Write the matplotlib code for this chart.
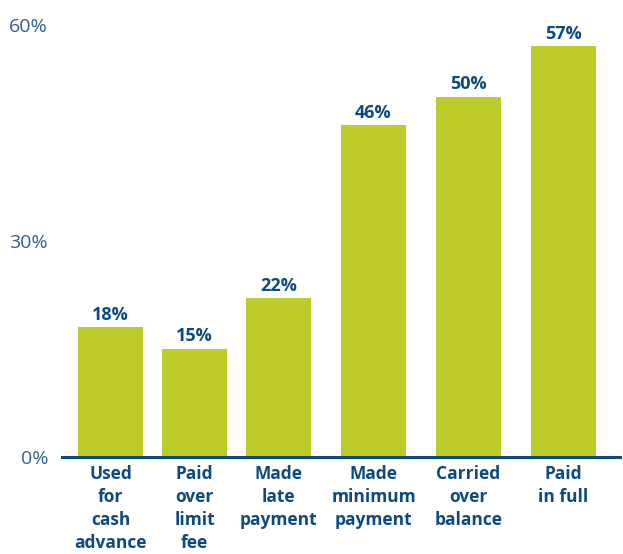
import matplotlib
matplotlib.use('Agg')
import matplotlib.pyplot as plt

categories = ['Used\nfor\ncash\nadvance', 'Paid\nover\nlimit\nfee', 'Made\nlate\npayment',
              'Made\nminimum\npayment', 'Carried\nover\nbalance', 'Paid\nin full']
values = [18, 15, 22, 46, 50, 57]
yticks = [0, 30, 60]

# bar centres (last three groups sit a little further apart)
xpos = [0, 1, 2, 3.13, 4.26, 5.39]

green = '#bdcc2a'
navy = '#0d4a80'
tick_blue = '#2f6196'

plt.rcParams['font.family'] = ['Open Sans', 'DejaVu Sans']

fig = plt.figure(figsize=(6.23, 5.54), dpi=100)
ax = fig.add_axes([62 / 623, 97.3 / 554, 558 / 623, 432 / 554])

bars = ax.bar(xpos, values, width=0.774, color=green)
for x, v in zip(xpos, values):
    ax.text(x, v + 0.5, f'{v}%', ha='center', va='bottom', fontsize=13,
            fontweight='bold', color=navy)

ax.set_xlim(-0.577, 6.063)
ax.set_ylim(0, 60)
ax.set_yticks(yticks)
ax.set_yticklabels([f'{t}%' for t in yticks], fontsize=14, color=tick_blue)
ax.tick_params(axis='y', length=0, pad=10)
ax.set_xticks(xpos)
ax.set_xticklabels(categories, fontsize=12.5, fontweight='bold', color=navy,
                   linespacing=1.36, va='top')
ax.tick_params(axis='x', length=0, pad=6)

for s in ['top', 'right', 'left']:
    ax.spines[s].set_visible(False)
ax.spines['bottom'].set_color(navy)
ax.spines['bottom'].set_linewidth(2.2)

fig.savefig('out.png', dpi=100)
